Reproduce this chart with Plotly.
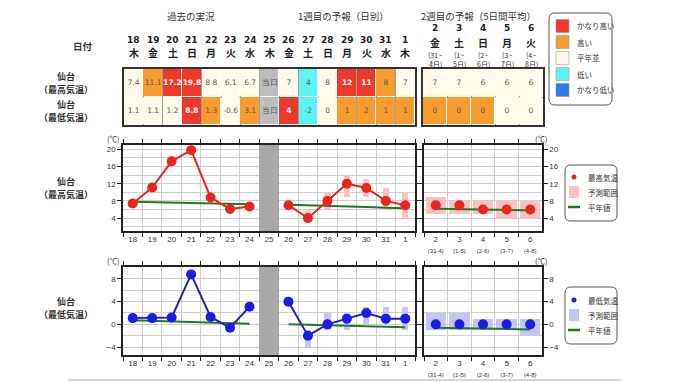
import plotly.graph_objects as go

W, H = 680, 382

# ---------------- data ----------------
days = ["18", "19", "20", "21", "22", "23", "24", "25", "26", "27", "28", "29", "30", "31", "1"]
weekdays = ["木", "金", "土", "日", "月", "火", "水", "木", "金", "土", "日", "月", "火", "水", "木"]
obs_days = days[:7]
today = "25"
fc_days = days[8:]

wk2_days = ["2", "3", "4", "5", "6"]
wk2_weekdays = ["金", "土", "日", "月", "火"]
wk2_head_start = ["(31~", "(1~", "(2~", "(3~", "(4~"]
wk2_head_end = ["4日)", "5日)", "6日)", "7日)", "8日)"]
wk2_tick_ranges = ["(31-4)", "(1-5)", "(2-6)", "(3-7)", "(4-8)"]

max_obs = [7.4, 11.1, 17.2, 19.8, 8.8, 6.1, 6.7]
min_obs = [1.1, 1.1, 1.2, 8.8, 1.3, -0.6, 3.1]
max_fc = [7, 4, 8, 12, 11, 8, 7]
min_fc = [4, -2, 0, 1, 2, 1, 1]
max_fc_lo = [None, 3, 6, 9, 9, 6, 4]
max_fc_hi = [None, 6, 10, 14, 13, 11, 10]
min_fc_lo = [None, -4, -1, -1, 0, 0, -1]
min_fc_hi = [None, -1, 2, 2, 3, 3, 3]

max_wk2 = [7, 7, 6, 6, 6]
max_wk2_lo = [5, 5, 5, 4, 4]
max_wk2_hi = [9, 8, 8, 8, 8]
min_wk2 = [0, 0, 0, 0, 0]
min_wk2_lo = [-1, -1, -1, -1, -2]
min_wk2_hi = [2, 2, 1, 1, 1]

max_norm_obs = [7.8, 7.7, 7.6, 7.5, 7.4, 7.3, 7.2]
max_norm_fc = [7.1, 7.0, 6.8, 6.7, 6.6, 6.4, 6.3]
max_norm_wk2 = [6.2, 6.1, 6.0, 5.9, 5.8]
min_norm_obs = [0.7, 0.6, 0.5, 0.4, 0.3, 0.2, 0.1]
min_norm_fc = [0.0, -0.1, -0.2, -0.2, -0.3, -0.4, -0.5]
min_norm_wk2 = [-0.6, -0.7, -0.8, -0.8, -0.9]

# classes: 0 かなり低い, 1 低い, 2 平年並, 3 高い, 4 かなり高い, 5 当日
max_class = [2, 3, 4, 4, 2, 2, 2, 5, 2, 1, 2, 4, 4, 3, 2]
min_class = [2, 2, 2, 4, 3, 2, 3, 5, 4, 1, 2, 3, 3, 3, 3]
max_wk2_class = [2, 2, 2, 2, 2]
min_wk2_class = [3, 3, 3, 2, 2]

class_names = ["かなり低い", "低い", "平年並", "高い", "かなり高い"]
class_colors = ["#2f78f0", "#5ef3f3", "#fffcec", "#f89c30", "#ef3a2b", "#bdbdbd"]
today_label = "当日"

legend_labels_max = ["最高気温", "予測範囲", "平年値"]
legend_labels_min = ["最低気温", "予測範囲", "平年値"]

max_range = [1, 21]
min_range = [-5.4, 10.1]

# ---------------- styles ----------------
RED = "#e8261e"
BLUE_LINE = "#2323b4"
BLUE_MK = "#1c1ce6"
PINK = "#f9c3c3"
LAV = "#c5c5f3"
GREEN = "#1f7a1f"
GRAY_BAND = "#a9a9a9"
JP = "Noto Sans CJK JP"
NUM = "DejaVu Sans"
TICKF = "Liberation Sans"


def px(x):
    return x / W


def py(y):
    return 1 - y / H


fig = go.Figure()

# ---------------- tables (heatmaps) ----------------
ncls = len(class_colors)
cscale = []
for i, c in enumerate(class_colors):
    cscale.append([i / ncls, c])
    cscale.append([(i + 1) / ncls, c])

max_cells = [f"{v:.1f}" for v in max_obs] + [today_label] + [str(v) for v in max_fc]
min_cells = [f"{v:.1f}" for v in min_obs] + [today_label] + [str(v) for v in min_fc]
wk2_max_cells = [str(v) for v in max_wk2]
wk2_min_cells = [str(v) for v in min_wk2]


def cell_text(texts, classes):
    out, cols = [], []
    for t, c in zip(texts, classes):
        if c == 4:
            out.append(f"<b>{t}</b>")
            cols.append("white")
        else:
            out.append(t)
            cols.append("#5a5a5a")
    return out, cols


for (xa, ya, xs, zrows, trows) in [
    ("x", "y", days, [max_class, min_class], [(max_cells, max_class), (min_cells, min_class)]),
    ("x2", "y2", wk2_days, [max_wk2_class, min_wk2_class],
     [(wk2_max_cells, max_wk2_class), (wk2_min_cells, min_wk2_class)]),
]:
    fig.add_trace(go.Heatmap(
        x=xs, y=[0, 1], z=zrows, colorscale=cscale, zmin=-0.5, zmax=ncls - 0.5,
        showscale=False, xgap=1, ygap=1, hoverinfo="skip", xaxis=xa, yaxis=ya))
    tx, ty, tt, tc = [], [], [], []
    for r, (texts, classes) in enumerate(trows):
        t, c = cell_text(texts, classes)
        tx += xs
        ty += [r] * len(xs)
        tt += t
        tc += c
    fig.add_trace(go.Scatter(
        x=tx, y=ty, text=tt, mode="text", textfont=dict(color=tc, size=7.5, family=NUM),
        hoverinfo="skip", showlegend=False, xaxis=xa, yaxis=ya))


# ---------------- charts ----------------
def add_chart(xl, yl, xr, yr, obs, fc, lo, hi, wk, wlo, whi, n_obs, n_fc, n_wk,
              line_c, mk_c, band_c, yrange):
    fig.add_trace(go.Bar(x=[today], y=[yrange[1] - yrange[0]], base=[yrange[0]], width=1,
                         marker=dict(color=GRAY_BAND, line=dict(width=0)), hoverinfo="skip",
                         showlegend=False, xaxis=xl, yaxis=yl))
    bx = [d for d, l in zip(fc_days, lo) if l is not None]
    bb = [l for l in lo if l is not None]
    bh = [h - l for l, h in zip(lo, hi) if l is not None]
    fig.add_trace(go.Bar(x=bx, y=bh, base=bb, width=0.32,
                         marker=dict(color=band_c, line=dict(width=0)), hoverinfo="skip",
                         showlegend=False, xaxis=xl, yaxis=yl))
    fig.add_trace(go.Bar(x=wk2_days, y=[h - l for l, h in zip(wlo, whi)], base=wlo, width=0.86,
                         marker=dict(color=band_c, line=dict(width=0)), hoverinfo="skip",
                         showlegend=False, xaxis=xr, yaxis=yr))
    for xs, ys, xa, ya in [(obs_days, n_obs, xl, yl), (fc_days, n_fc, xl, yl), (wk2_days, n_wk, xr, yr)]:
        fig.add_trace(go.Scatter(x=xs, y=ys, mode="lines", line=dict(color=GREEN, width=2),
                                 hoverinfo="skip", showlegend=False, xaxis=xa, yaxis=ya))
    for xs, ys in [(obs_days, obs), (fc_days, fc)]:
        fig.add_trace(go.Scatter(x=xs, y=ys, mode="lines+markers",
                                 line=dict(color=line_c, width=2),
                                 marker=dict(color=mk_c, size=10),
                                 hoverinfo="skip", showlegend=False, xaxis=xl, yaxis=yl))
    fig.add_trace(go.Scatter(x=wk2_days, y=wk, mode="markers", marker=dict(color=mk_c, size=10),
                             hoverinfo="skip", showlegend=False, xaxis=xr, yaxis=yr))


add_chart("x3", "y3", "x4", "y4", max_obs, max_fc, max_fc_lo, max_fc_hi,
          max_wk2, max_wk2_lo, max_wk2_hi, max_norm_obs, max_norm_fc, max_norm_wk2,
          RED, RED, PINK, max_range)
add_chart("x5", "y5", "x6", "y6", min_obs, min_fc, min_fc_lo, min_fc_hi,
          min_wk2, min_wk2_lo, min_wk2_hi, min_norm_obs, min_norm_fc, min_norm_wk2,
          BLUE_LINE, BLUE_MK, LAV, min_range)

# ---------------- axes ----------------
LX = [px(115), px(407)]
RX = [px(416), px(534)]
TB1 = [py(117), py(61)]
C1 = [py(223), py(137)]
C2 = [py(347), py(259)]

table_x = dict(type="category", showgrid=True, gridcolor="#a0a0a0", gridwidth=1,
               tickson="boundaries", ticks="", showticklabels=False, showline=True,
               mirror=True, linecolor="#333333", linewidth=1.5, zeroline=False)
table_y = dict(range=[1.5, -0.5], tickvals=[0.5], showgrid=True, gridcolor="#a0a0a0",
               showticklabels=False, ticks="", showline=True, mirror=True,
               linecolor="#333333", linewidth=1.5, zeroline=False)

chart_x = dict(type="category", showgrid=True, gridcolor="#cfcfcf", gridwidth=1,
               tickson="boundaries", ticks="outside", ticklen=4, tickcolor="#222",
               showline=True, mirror="ticks", linecolor="#222222", linewidth=1.5,
               tickangle=0, tickfont=dict(size=8, family=TICKF, color="#333"), zeroline=False)


def chart_y(rng, side):
    return dict(range=rng, dtick=4, tick0=0, ticks="outside", ticklen=4, tickcolor="#222",
                showgrid=True, gridcolor="#cfcfcf", side=side,
                minor=dict(dtick=2, tick0=0, showgrid=True, gridcolor="#cfcfcf"),
                showline=True, mirror="ticks", linecolor="#222222", linewidth=1.5,
                tickfont=dict(size=8, family=TICKF, color="#333"), zeroline=False)


wk2_ticktext = [f"{d}<br><span style='font-size:6px'>{r}</span>"
                for d, r in zip(wk2_days, wk2_tick_ranges)]

fig.update_layout(
    xaxis=dict(table_x, domain=[px(116), px(407)], anchor="y", categoryorder="array",
               categoryarray=days, range=[-0.5, len(days) - 0.5]),
    yaxis=dict(table_y, domain=TB1, anchor="x"),
    xaxis2=dict(table_x, domain=[px(415), px(535)], anchor="y2", categoryorder="array",
                categoryarray=wk2_days, range=[-0.5, len(wk2_days) - 0.5]),
    yaxis2=dict(table_y, domain=TB1, anchor="x2"),
    xaxis3=dict(chart_x, domain=LX, anchor="y3", categoryorder="array", categoryarray=days,
                range=[-0.5, len(days) - 0.5]),
    yaxis3=dict(chart_y(max_range, "left"), domain=C1, anchor="x3"),
    xaxis4=dict(chart_x, domain=RX, anchor="y4", categoryorder="array", categoryarray=wk2_days,
                range=[-0.5, len(wk2_days) - 0.5], tickvals=wk2_days, ticktext=wk2_ticktext),
    yaxis4=dict(chart_y(max_range, "right"), domain=C1, anchor="x4"),
    xaxis5=dict(chart_x, domain=LX, anchor="y5", categoryorder="array", categoryarray=days,
                range=[-0.5, len(days) - 0.5]),
    yaxis5=dict(chart_y(min_range, "left"), domain=C2, anchor="x5"),
    xaxis6=dict(chart_x, domain=RX, anchor="y6", categoryorder="array", categoryarray=wk2_days,
                range=[-0.5, len(wk2_days) - 0.5], tickvals=wk2_days, ticktext=wk2_ticktext),
    yaxis6=dict(chart_y(min_range, "right"), domain=C2, anchor="x6"),
)

# ---------------- annotations ----------------
ann = []


def text(x, y, s, size=9, color="#333333", family=JP, xanchor="center", xref="paper"):
    ann.append(dict(x=x, y=py(y), xref=xref, yref="paper", text=s, showarrow=False,
                    xanchor=xanchor, yanchor="middle",
                    font=dict(size=size, color=color, family=family)))


text(px(183), 8, "過去の実況", 9.5)
text(px(335), 8, "1週目の予報（日別）", 9.5)
text(px(470), 8, "2週目の予報（5日間平均）", 9.5)
text(px(75), 38, "<b>日付</b>", 9.5)

for i, (d, w) in enumerate(zip(days, weekdays)):
    text(i, 32, f"<b>{d}</b>", 9, "#222", NUM, xref="x")
    text(i, 45, f"<b>{w}</b>", 10, "#222", JP, xref="x")
for i, (d, w, a, b) in enumerate(zip(wk2_days, wk2_weekdays, wk2_head_start, wk2_head_end)):
    text(i, 20, f"<b>{d}</b>", 9, "#222", NUM, xref="x2")
    text(i, 34, f"<b>{w}</b>", 10, "#222", JP, xref="x2")
    text(i, 47, a, 7, "#333", JP, xref="x2")
    text(i, 56, b, 7, "#333", JP, xref="x2")

for yc, sub in [(69, "（最高気温）"), (96, "（最低気温）"), (173, "（最高気温）"), (293, "（最低気温）")]:
    text(px(58), yc, "<b>仙台</b>", 9)
    text(px(58), yc + 13, f"<b>{sub}</b>", 9)

for (x, y) in [(105, 130), (533, 130), (105, 252), (533, 252)]:
    text(px(x), y, "(℃)", 7.5, "#333", JP)

shapes = []

# colour-class legend
leg_items = list(zip(class_names, class_colors[:5]))[::-1]
for i, (nm, col) in enumerate(leg_items):
    yc = 18 + i * 16
    shapes.append(dict(type="rect", xref="paper", yref="paper", x0=px(548), x1=px(561),
                       y0=py(yc + 6.5), y1=py(yc - 6.5), fillcolor=col,
                       line=dict(color="#999999", width=0.6)))
    text(px(567), yc, nm, 7.5, "#333", JP, xanchor="left")

# chart legends (drawn manually to match compact spacing)
for top, labels, mk, band in [(169, legend_labels_max, RED, PINK), (292, legend_labels_min, BLUE_MK, LAV)]:
    y0, y1, y2 = top, top + 15, top + 30
    shapes.append(dict(type="circle", xref="paper", yref="paper", x0=px(563.5), x1=px(568.5),
                       y0=py(y0 + 2.5), y1=py(y0 - 2.5), fillcolor=mk, line=dict(width=0)))
    shapes.append(dict(type="rect", xref="paper", yref="paper", x0=px(561), x1=px(571),
                       y0=py(y1 + 6), y1=py(y1 - 6), fillcolor=band, line=dict(width=0)))
    shapes.append(dict(type="line", xref="paper", yref="paper", x0=px(560), x1=px(572),
                       y0=py(y2), y1=py(y2), line=dict(color=GREEN, width=2.5)))
    for yy, lab in zip([y0, y1, y2], labels):
        text(px(578), yy, lab, 7.5, "#333", JP, xanchor="left")


def rounded(x0, y0, x1, y1, r):
    ax, ay = r / W, r / H
    X0, X1 = px(x0), px(x1)
    Y0, Y1 = py(y0), py(y1)
    return (f"M {X0 + ax} {Y0} L {X1 - ax} {Y0} Q {X1} {Y0} {X1} {Y0 - ay} "
            f"L {X1} {Y1 + ay} Q {X1} {Y1} {X1 - ax} {Y1} "
            f"L {X0 + ax} {Y1} Q {X0} {Y1} {X0} {Y1 + ay} "
            f"L {X0} {Y0 - ay} Q {X0} {Y0} {X0 + ax} {Y0} Z")


for box in [(541, 5, 604, 97), (557, 157, 609, 213), (557, 279, 609, 336)]:
    shapes.append(dict(type="path", xref="paper", yref="paper", path=rounded(*box, 6),
                       line=dict(color="#555555", width=1), fillcolor="rgba(0,0,0,0)"))

shapes.append(dict(type="line", xref="paper", yref="paper", x0=px(60), x1=px(613),
                   y0=py(372), y1=py(372), line=dict(color="#c8c8c8", width=1.5)))

fig.update_layout(
    width=W, height=H, margin=dict(l=0, r=0, t=0, b=0),
    paper_bgcolor="white", plot_bgcolor="white",
    barmode="overlay", bargap=0, showlegend=False,
    annotations=ann, shapes=shapes,
    font=dict(family=JP),
)

fig.write_html("out.html")
